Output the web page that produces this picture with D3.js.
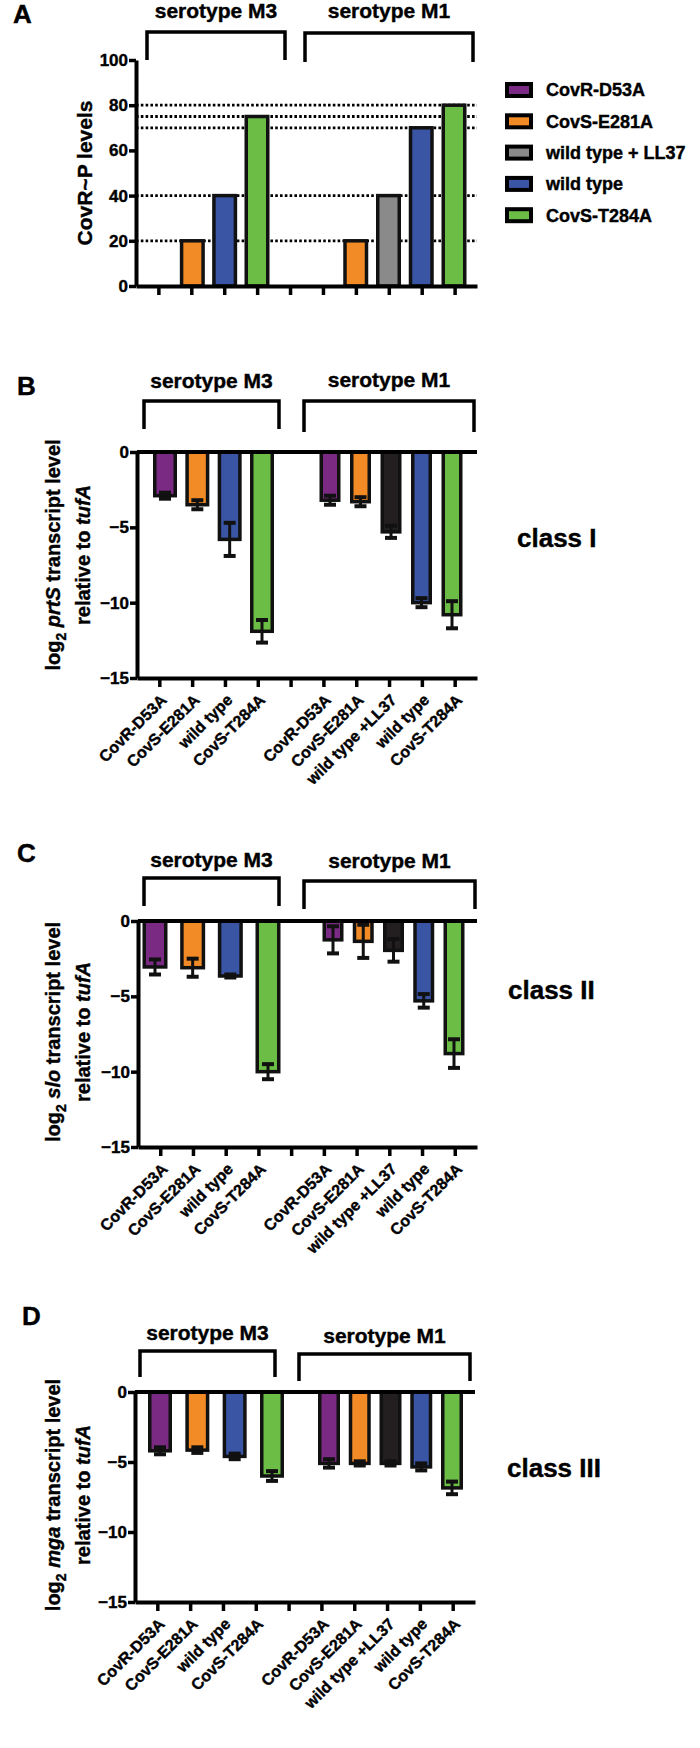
<!DOCTYPE html>
<html>
<head>
<meta charset="utf-8">
<script src="https://cdn.jsdelivr.net/npm/d3@7"></script>
<style>
  body { margin: 0; background: #fff; }
  svg text { font-family: "Liberation Sans", Arial, Helvetica, sans-serif; font-weight: bold; fill: #000;
             stroke: #000; stroke-width: 0.4px; }
</style>
</head>
<body>
<svg id="fig" width="700" height="1748"></svg>
<script>
/**
 * CovR~P levels and transcript levels, serotype M3 / M1
 */

// categories
var groups = ['serotype M3', 'serotype M1'];
var m3Strains = ['CovR-D53A', 'CovS-E281A', 'wild type', 'CovS-T284A'];
var m1Strains = ['CovR-D53A', 'CovS-E281A', 'wild type +LL37', 'wild type', 'CovS-T284A'];
var legendLabels = ['CovR-D53A', 'CovS-E281A', 'wild type + LL37', 'wild type', 'CovS-T284A'];
var classLabels = ['class I', 'class II', 'class III'];

// panel A: CovR~P levels
var levelsM3 = [0, 20, 40, 75];
var levelsM1 = [0, 20, 40, 70, 80];
var refLines = [20, 40, 70, 75, 80];
var levelTicks = [0, 20, 40, 60, 80, 100];

// panels B-D: log2 transcript level relative to tufA (mean, sem)
var prtsM3 = [-2.9, -3.5, -5.8, -11.9];
var prtsM3Err = [0.2, 0.3, 1.1, 0.75];
var prtsM1 = [-3.2, -3.3, -5.3, -10.0, -10.8];
var prtsM1Err = [0.3, 0.3, 0.4, 0.3, 0.9];

var sloM3 = [-3.05, -3.1, -3.65, -10.0];
var sloM3Err = [0.5, 0.6, 0.1, 0.5];
var sloM1 = [-1.25, -1.35, -1.95, -5.3, -8.8];
var sloM1Err = [0.9, 1.1, 0.75, 0.45, 0.95];

var mgaM3 = [-4.2, -4.15, -4.6, -6.0];
var mgaM3Err = [0.25, 0.2, 0.2, 0.35];
var mgaM1 = [-5.1, -5.1, -5.1, -5.35, -6.85];
var mgaM1Err = [0.3, 0.15, 0.15, 0.25, 0.45];

var logTicks = [0, -5, -10, -15];

var colors = {
  'CovR-D53A': '#7b2a83',
  'CovS-E281A': '#f28b25',
  'wild type + LL37': '#8a8a8a',
  'wild type +LL37': '#231f20',
  'wild type': '#3a55a4',
  'CovS-T284A': '#6bbd46'
};

var svg = d3.select('#fig');

// layout of each panel
var panels = [
  {letter: 'A', lx: 13, ly: 23, x0: 136, x1: 477, yTop: 60, yBot: 286, domain: [0, 100],
   ticks: levelTicks, m3: levelsM3, m1: levelsM1, barsM3: [160, 257], barsM1: [323, 454],
   widths: [25, 25], grey: true, labels: false,
   brackets: [[147, 285, 32, 60, 18], [305, 473, 33, 62, 18]],
   title: ['CovR~P levels'], titleX: 85, titleY: 173},
  {letter: 'B', lx: 17, ly: 395, x0: 137, x1: 477, yTop: 452, yBot: 678, domain: [-15, 0],
   ticks: logTicks, m3: prtsM3, m3Err: prtsM3Err, m1: prtsM1, m1Err: prtsM1Err,
   barsM3: [165, 262], barsM1: [330, 452], widths: [24, 21], labels: true,
   brackets: [[144, 279, 401, 429, 388], [304, 474, 401, 432, 387]],
   gene: 'prtS', titleX: 68, titleY: 555, cls: 0, cx: 517, cy: 547},
  {letter: 'C', lx: 17, ly: 862, x0: 138, x1: 477, yTop: 921, yBot: 1147, domain: [-15, 0],
   ticks: logTicks, m3: sloM3, m3Err: sloM3Err, m1: sloM1, m1Err: sloM1Err,
   barsM3: [155, 268], barsM1: [333, 454], widths: [25, 21], labels: true,
   brackets: [[144, 279, 878, 906, 867], [304, 475, 881, 909, 868]],
   gene: 'slo', titleX: 68, titleY: 1032, cls: 1, cx: 508, cy: 999},
  {letter: 'D', lx: 22, ly: 1325, x0: 135, x1: 475, yTop: 1392, yBot: 1602, domain: [-15, 0],
   ticks: logTicks, m3: mgaM3, m3Err: mgaM3Err, m1: mgaM1, m1Err: mgaM1Err,
   barsM3: [160, 272], barsM1: [329, 452], widths: [24, 22], labels: true,
   brackets: [[140, 275, 1351, 1377, 1340], [299, 470, 1354, 1381, 1343]],
   gene: 'mga', titleX: 68, titleY: 1495, cls: 2, cx: 507, cy: 1477}
];

panels.forEach(drawPanel);
drawLegend();

function drawPanel(p) {
  var g = svg.append('g');

  var y = d3.scaleLinear()
      .domain(p.domain)
      .range([p.yBot, p.yTop]);

  // 10 slots: 4 M3 strains, a gap, 5 M1 strains
  var slots = m3Strains.map(function(s) { return 'M3|' + s; })
      .concat(['gap|'])
      .concat(m1Strains.map(function(s) { return 'M1|' + s; }));
  var x = d3.scalePoint()
      .domain(slots)
      .range([p.x0, p.x1])
      .padding(0.68);

  var xM3 = d3.scalePoint().domain(m3Strains).range(p.barsM3);
  var xM1 = d3.scalePoint().domain(m1Strains).range(p.barsM1);

  g.append('text')
      .attr('x', p.lx)
      .attr('y', p.ly)
      .style('font-size', '26px')
      .text(p.letter);

  // dotted reference lines (panel A)
  if (!p.labels) {
    g.selectAll('line.ref')
        .data(refLines)
      .enter().append('line')
        .attr('x1', p.x0)
        .attr('x2', p.x1)
        .attr('y1', function(d) { return y(d); })
        .attr('y2', function(d) { return y(d); })
        .attr('stroke', '#000')
        .attr('stroke-width', 2.8)
        .attr('stroke-dasharray', '2.6,2.2');
  }

  var bars = [];
  m3Strains.forEach(function(s, i) {
    bars.push({cx: xM3(s), w: p.widths[0], v: p.m3[i], e: p.m3Err ? p.m3Err[i] : 0,
               c: colors[s]});
  });
  m1Strains.forEach(function(s, i) {
    var c = (p.grey && s === 'wild type +LL37') ? colors['wild type + LL37'] : colors[s];
    bars.push({cx: xM1(s), w: p.widths[1], v: p.m1[i], e: p.m1Err ? p.m1Err[i] : 0, c: c});
  });

  g.selectAll('rect.bar')
      .data(bars)
    .enter().append('rect')
      .attr('x', function(d) { return d.cx - (d.w - 3.5) / 2; })
      .attr('width', function(d) { return d.w - 3.5; })
      .attr('y', function(d) { return Math.min(y(0), y(d.v)); })
      .attr('height', function(d) { return Math.abs(y(d.v) - y(0)); })
      .attr('fill', function(d) { return d.c; })
      .attr('stroke', '#111')
      .attr('stroke-width', 3.5);

  // error bars
  var errs = bars.filter(function(d) { return d.e > 0; });
  var eg = g.selectAll('g.err')
      .data(errs)
    .enter().append('g')
      .attr('stroke', '#111')
      .attr('stroke-width', 3);
  eg.append('line')
      .attr('x1', function(d) { return d.cx; })
      .attr('x2', function(d) { return d.cx; })
      .attr('y1', function(d) { return y(d.v + d.e); })
      .attr('y2', function(d) { return y(d.v - d.e); });
  [1, -1].forEach(function(sign) {
    eg.append('line')
        .attr('x1', function(d) { return d.cx - 6; })
        .attr('x2', function(d) { return d.cx + 6; })
        .attr('y1', function(d) { return y(d.v + sign * d.e); })
        .attr('y2', function(d) { return y(d.v + sign * d.e); })
        .attr('stroke-width', 4);
  });

  // zero line at top for the log panels
  if (p.labels) {
    g.append('line')
        .attr('x1', p.x0)
        .attr('x2', p.x1)
        .attr('y1', y(0))
        .attr('y2', y(0))
        .attr('stroke', '#000')
        .attr('stroke-width', 4);
  }

  // y axis
  var ya = g.append('g')
      .attr('transform', 'translate(' + p.x0 + ',0)')
      .call(d3.axisLeft(y).tickValues(p.ticks).tickSize(7).tickSizeOuter(0).tickPadding(1));
  ya.select('.domain').attr('stroke-width', 4);
  ya.selectAll('.tick line').attr('stroke-width', 3.5);
  ya.selectAll('.tick text')
      .style('font-size', '17px')
      .style('font-family', '"Liberation Sans", Arial, sans-serif')
      .style('font-weight', 'bold');

  // x axis
  var xa = g.append('g')
      .attr('transform', 'translate(0,' + p.yBot + ')')
      .call(d3.axisBottom(x).tickSize(9).tickSizeOuter(0)
        .tickFormat(function(d) { return d.split('|')[1]; }));
  xa.select('.domain').attr('stroke-width', 4);
  xa.selectAll('.tick line').attr('stroke-width', 3.5);
  if (p.labels) {
    xa.selectAll('.tick text')
        .style('font-size', '16px')
        .style('font-family', '"Liberation Sans", Arial, sans-serif')
        .style('font-weight', 'bold')
        .style('text-anchor', 'end')
        .attr('x', 0)
        .attr('y', 0)
        .attr('dy', '0.35em')
        .attr('transform', 'translate(4,19) rotate(-45)');
  } else {
    xa.selectAll('.tick text').remove();
  }

  // brackets with serotype titles
  p.brackets.forEach(function(b, i) {
    g.append('path')
        .attr('d', 'M' + b[0] + ',' + b[3] + 'V' + b[2] + 'H' + b[1] + 'V' + b[3])
        .attr('fill', 'none')
        .attr('stroke', '#000')
        .attr('stroke-width', 3.5);
    g.append('text')
        .attr('x', (b[0] + b[1]) / 2)
        .attr('y', b[4])
        .attr('text-anchor', 'middle')
        .style('font-size', '21px')
        .text(groups[i]);
  });

  // y title
  var t = g.append('g')
      .attr('transform', 'translate(' + p.titleX + ',' + p.titleY + ') rotate(-90)');
  if (p.title) {
    t.append('text')
        .attr('text-anchor', 'middle')
        .attr('dy', '0.35em')
        .style('font-size', '21px')
        .text(p.title[0]);
  } else {
    var l1 = t.append('text')
        .attr('text-anchor', 'middle')
        .attr('y', -15)
        .attr('dy', '0.35em')
        .style('font-size', '20px');
    l1.append('tspan').text('log');
    l1.append('tspan').attr('dy', 6).style('font-size', '14px').text('2');
    l1.append('tspan').attr('dy', -6).text(' ');
    l1.append('tspan').style('font-style', 'italic').text(p.gene);
    l1.append('tspan').text(' transcript level');
    var l2 = t.append('text')
        .attr('text-anchor', 'middle')
        .attr('y', 15)
        .attr('dy', '0.35em')
        .style('font-size', '20px');
    l2.append('tspan').text('relative to ');
    l2.append('tspan').style('font-style', 'italic').text('tufA');
  }

  if (p.cls !== undefined) {
    g.append('text')
        .attr('x', p.cx)
        .attr('y', p.cy)
        .style('font-size', '26px')
        .text(classLabels[p.cls]);
  }
}

function drawLegend() {
  var lg = svg.append('g')
      .attr('transform', 'translate(505,90)');
  var rows = lg.selectAll('g.row')
      .data(legendLabels)
    .enter().append('g')
      .attr('transform', function(d, i) { return 'translate(0,' + (i * 31.3) + ')'; });
  rows.append('rect')
      .attr('x', 2)
      .attr('y', -6)
      .attr('width', 24)
      .attr('height', 12)
      .attr('fill', function(d) { return colors[d]; })
      .attr('stroke', '#000')
      .attr('stroke-width', 4);
  rows.append('text')
      .attr('x', 41)
      .attr('dy', '0.35em')
      .style('font-size', '18px')
      .text(function(d) { return d; });
}
</script>
</body>
</html>
